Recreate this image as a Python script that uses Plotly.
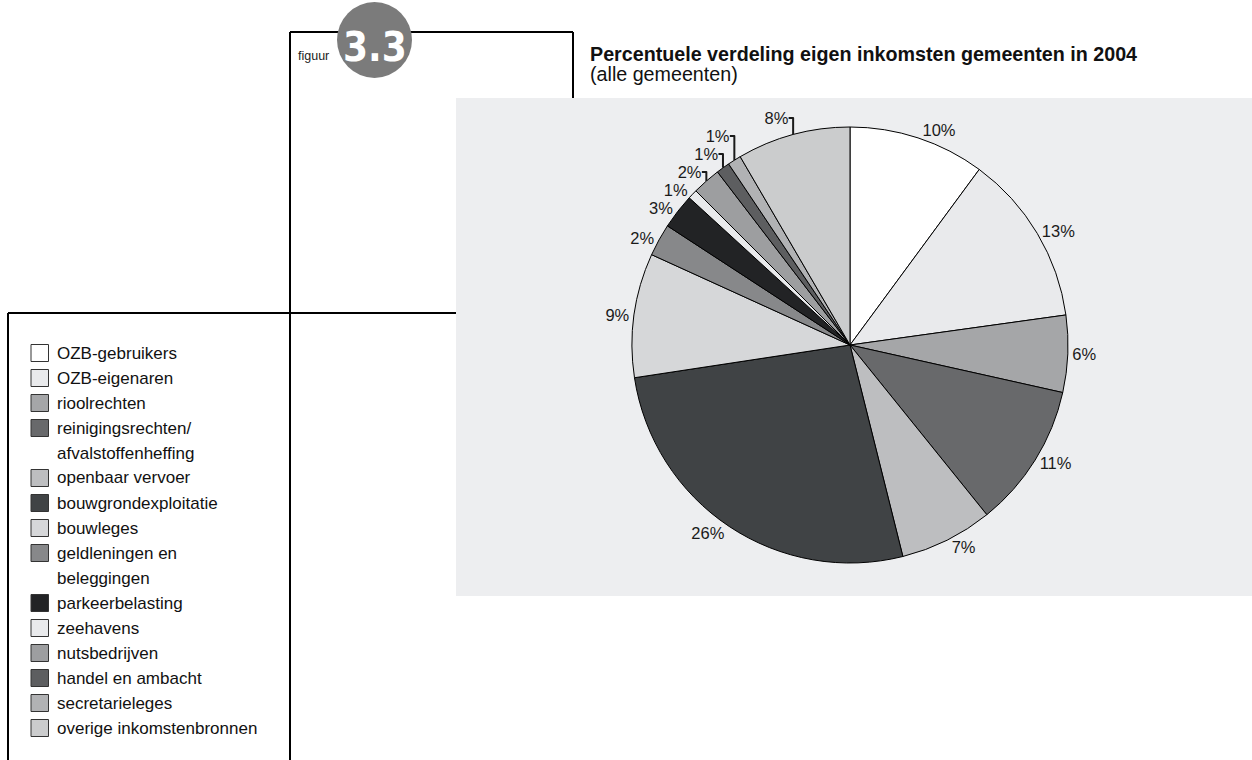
import plotly.graph_objects as go

W, H = 1252, 760

categories = [
    "OZB-gebruikers", "OZB-eigenaren", "rioolrechten",
    "reinigingsrechten/\nafvalstoffenheffing", "openbaar vervoer",
    "bouwgrondexploitatie", "bouwleges", "geldleningen en\nbeleggingen",
    "parkeerbelasting", "zeehavens", "nutsbedrijven", "handel en ambacht",
    "secretarieleges", "overige inkomstenbronnen",
]
shares = [10.1, 12.7, 5.7, 10.7, 6.9, 26.5, 9.2, 2.4, 2.6, 0.7, 2.1, 1.0, 1.0, 8.4]
share_labels = ["10%", "13%", "6%", "11%", "7%", "26%", "9%", "2%", "3%", "1%",
                "2%", "1%", "1%", "8%"]
colors = ["#ffffff", "#e9eaec", "#a5a6a8", "#68696b", "#bdbec0", "#404345",
          "#d6d7d9", "#87888a", "#222325", "#e9eaec", "#9d9ea0", "#5d5e60",
          "#b1b2b4", "#cbcccd"]

TITLE = "Percentuele verdeling eigen inkomsten gemeenten in 2004"
SUBTITLE = "(alle gemeenten)"
FONT = "Liberation Sans, Arial, sans-serif"


def px(x):
    return x / W


def py(y):
    return 1 - y / H


fig = go.Figure()

fig.add_trace(go.Pie(
    labels=[c.replace("\n", " ") for c in categories],
    values=shares,
    text=share_labels,
    textinfo="text",
    textposition="outside",
    sort=False,
    direction="clockwise",
    rotation=0,
    marker=dict(colors=colors, line=dict(color="#000000", width=1)),
    textfont=dict(family=FONT, size=16.5, color="#1a1a1a"),
    domain=dict(x=[px(632), px(1068)], y=[py(563), py(127)]),
    showlegend=False,
    hoverinfo="label+text",
))

shapes = []
line = dict(color="#000000", width=2)
shapes.append(dict(type="line", xref="paper", yref="paper", x0=px(290), x1=px(290), y0=py(32), y1=py(760), line=line, layer="below"))
shapes.append(dict(type="line", xref="paper", yref="paper", x0=px(290), x1=px(573), y0=py(32), y1=py(32), line=line, layer="below"))
shapes.append(dict(type="line", xref="paper", yref="paper", x0=px(573), x1=px(573), y0=py(32), y1=py(98), line=line, layer="below"))
shapes.append(dict(type="line", xref="paper", yref="paper", x0=px(8), x1=px(456), y0=py(313), y1=py(313), line=line, layer="below"))
shapes.append(dict(type="line", xref="paper", yref="paper", x0=px(8), x1=px(8), y0=py(313), y1=py(760), line=line, layer="below"))
shapes.append(dict(type="rect", xref="paper", yref="paper", x0=px(456), x1=px(1252), y0=py(596), y1=py(98),
                   fillcolor="#edeef0", line=dict(width=0), layer="below"))
shapes.append(dict(type="circle", xref="paper", yref="paper", x0=px(337), x1=px(412), y0=py(78), y1=py(2),
                   fillcolor="#7b7b7b", line=dict(width=0), layer="below"))

annotations = []
annotations.append(dict(text="figuur", x=px(296), y=py(56), xref="paper", yref="paper", xanchor="left", yanchor="middle",
                        showarrow=False, font=dict(family=FONT, size=12.5, color="#222222")))
annotations.append(dict(text="<b>3.3</b>", x=px(375), y=py(47), xref="paper", yref="paper", xanchor="center", yanchor="middle",
                        showarrow=False, font=dict(family="Liberation Sans Narrow, DejaVu Sans Condensed, Arial Narrow, Liberation Sans, sans-serif",
                                                   size=40, color="#ffffff")))
annotations.append(dict(text="<b>" + TITLE + "</b>", x=px(588), y=py(54), xref="paper", yref="paper", xanchor="left", yanchor="middle",
                        showarrow=False, font=dict(family=FONT, size=19.7, color="#111111")))
annotations.append(dict(text=SUBTITLE, x=px(588), y=py(74), xref="paper", yref="paper", xanchor="left", yanchor="middle",
                        showarrow=False, font=dict(family=FONT, size=19.7, color="#111111")))

row = 0
y_first = 353
step = 25
for cat, col in zip(categories, colors):
    lines = cat.split("\n")
    yc = y_first + row * step
    shapes.append(dict(type="rect", xref="paper", yref="paper", x0=px(31), x1=px(48.5), y0=py(yc + 8.5), y1=py(yc - 8.5),
                       fillcolor=col, line=dict(color="#333333", width=1)))
    for ln in lines:
        yl = y_first + row * step
        annotations.append(dict(text=ln, x=px(55), y=py(yl), xref="paper", yref="paper", xanchor="left", yanchor="middle",
                                showarrow=False, font=dict(family=FONT, size=17, color="#111111")))
        row += 1

fig.update_layout(
    width=W, height=H,
    margin=dict(l=0, r=0, t=0, b=0),
    paper_bgcolor="#ffffff",
    plot_bgcolor="#ffffff",
    shapes=shapes,
    annotations=annotations,
)

fig.write_html("out.html")
